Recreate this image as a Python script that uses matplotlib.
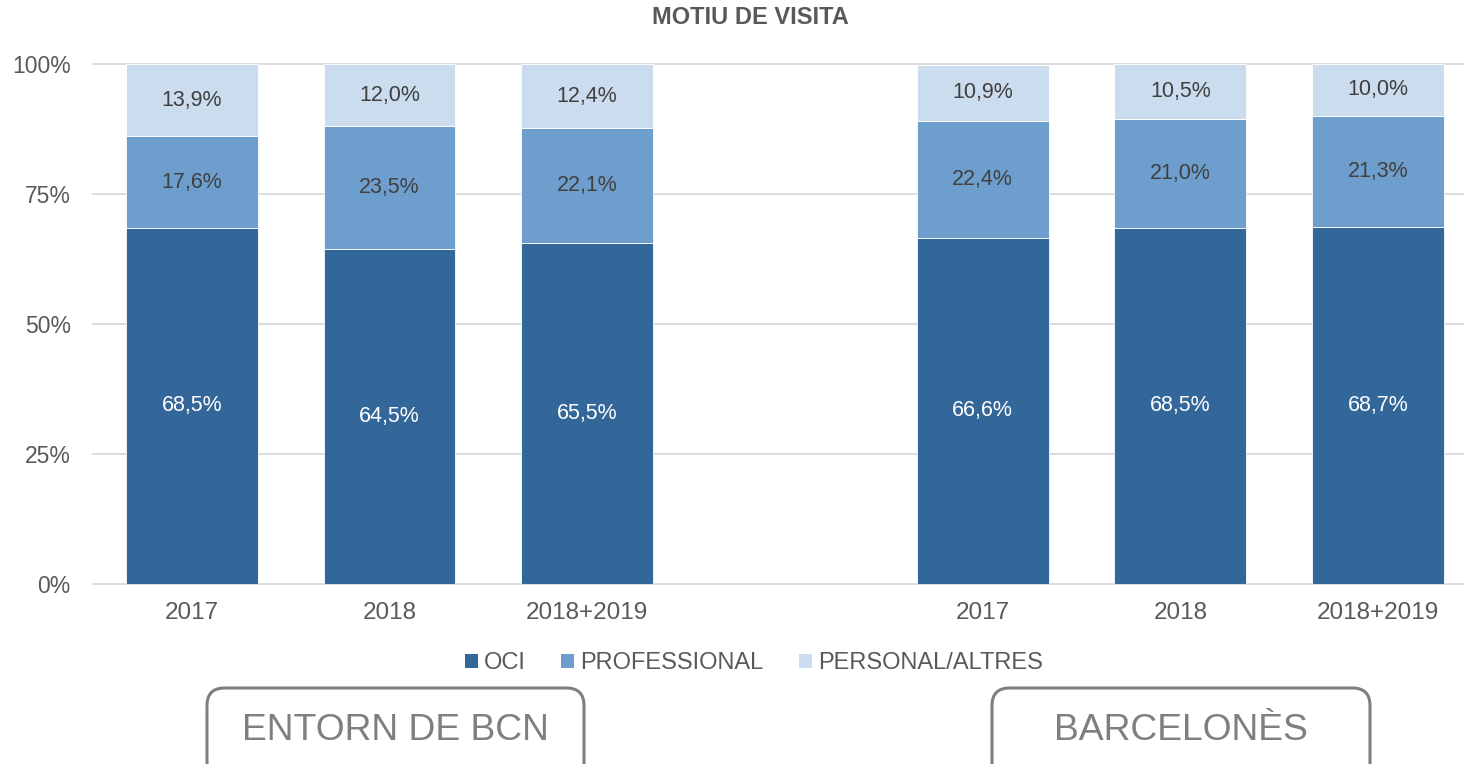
import matplotlib
matplotlib.use("Agg")
import matplotlib.pyplot as plt
from matplotlib.patches import Patch, FancyBboxPatch

plt.rcParams['font.family'] = ['Liberation Sans', 'DejaVu Sans']

# ---- data ----
categories = ["2017", "2018", "2018+2019", "2017", "2018", "2018+2019"]
groups = ["ENTORN DE BCN", "BARCELONÈS"]
series_names = ["OCI", "PROFESSIONAL", "PERSONAL/ALTRES"]
oci = [68.5, 64.5, 65.5, 66.6, 68.5, 68.7]
professional = [17.6, 23.5, 22.1, 22.4, 21.0, 21.3]
personal = [13.9, 12.0, 12.4, 10.9, 10.5, 10.0]
y_ticks = [0, 25, 50, 75, 100]

colors = ["#336699", "#6d9ecd", "#cbdcee"]
label_colors = ["white", "#404040", "#404040"]
grey_txt = "#595959"

W, H = 1464, 764
fig = plt.figure(figsize=(W / 100, H / 100), dpi=100)
ax = fig.add_axes([93 / W, (H - 584) / H, (W - 93) / W, (584 - 64) / H])

# category slots (empty slot between the two groups)
x = [0, 1, 2, 4, 5, 6]
width = 0.667

bottom = [0.0] * len(x)
for vals, col, lc, name in zip([oci, professional, personal], colors, label_colors, series_names):
    ax.bar(x, vals, width, bottom=bottom, color=col, edgecolor="white",
           linewidth=0.6, label=name, zorder=2)
    for xi, b, v in zip(x, bottom, vals):
        ax.text(xi, b + v / 2, f"{v:.1f}".replace(".", ",") + "%", ha="center",
                va="center", fontsize=15.5, color=lc, zorder=3)
    bottom = [b + v for b, v in zip(bottom, vals)]

ax.set_xlim(-0.5, 6 + (W - 1378) / 197.7)
ax.set_ylim(0, 100)
for yt in y_ticks:
    ax.axhline(yt, color="#d9d9d9", lw=1.3, zorder=1, clip_on=False)

ax.set_yticks(y_ticks)
ax.set_yticklabels([f"{t}%" for t in y_ticks])
ax.set_xticks(x)
ax.set_xticklabels(categories)
ax.tick_params(axis="y", length=0, pad=16, labelsize=16.5, labelcolor=grey_txt)
ax.tick_params(axis="x", length=0, pad=13, labelsize=17.5, labelcolor=grey_txt)
for s in ax.spines.values():
    s.set_visible(False)

fig.text(750 / W, 1 - 18 / H, "MOTIU DE VISITA", ha="center", va="center",
         fontsize=17, fontweight="bold", color=grey_txt)

handles = [Patch(facecolor=c, edgecolor="none") for c in colors]
fig.legend(handles, series_names, loc="center", bbox_to_anchor=(754 / W, 1 - 663 / H),
           ncol=3, frameon=False, fontsize=17, handlelength=0.55, handleheight=0.55,
           handletextpad=0.25, columnspacing=1.5, labelcolor=grey_txt)

# group boxes
box_specs = [(207, 584), (992, 1370)]
for (x0, x1), g in zip(box_specs, groups):
    box = FancyBboxPatch((x0 / W, -30 / H), (x1 - x0) / W, (H - 688 + 30) / H,
                         boxstyle="round,pad=0,rounding_size=0.012",
                         transform=fig.transFigure, facecolor="white",
                         edgecolor="#7f7f7f", linewidth=2.2, mutation_aspect=W / H)
    fig.add_artist(box)
    fig.text((x0 + x1) / 2 / W, 1 - 731 / H, g, ha="center", va="center",
             fontsize=26.8, color="#7f7f7f")

fig.savefig("out.png", dpi=100)
